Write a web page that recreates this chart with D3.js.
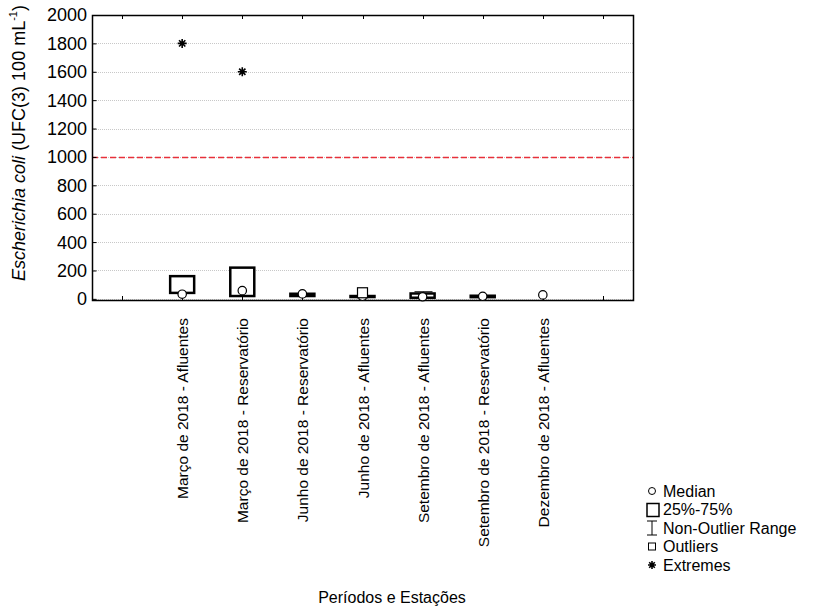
<!DOCTYPE html>
<html>
<head>
<meta charset="utf-8">
<script src="https://cdn.jsdelivr.net/npm/d3@7"></script>
<style>
  body { margin: 0; background: #fff; }
  text { font-family: "Liberation Sans", Arial, sans-serif; fill: #000; }
</style>
</head>
<body>
<div id="chart"></div>
<script>
// categories and box plot statistics
let categories = [
  "Março de 2018 - Afluentes",
  "Março de 2018 - Reservatório",
  "Junho de 2018 - Reservatório",
  "Junho de 2018 - Afluentes",
  "Setembro de 2018 - Afluentes",
  "Setembro de 2018 - Reservatório",
  "Dezembro de 2018 - Afluentes"
];
let medians = [33, 58, 35, 18, 15, 18, 28];
let q1 = [42, 20, 20, 14, 8, 12, null];
let q3 = [160, 220, 36, 20, 38, 22, null];
let whiskerLow = [null, null, null, null, 8, null, null];
let whiskerHigh = [null, null, null, null, 50, null, null];
let outliers = [[], [], [], [43], [], [], []];
let extremes = [[1800], [1600], [], [], [], [], []];
let yTicks = [0, 200, 400, 600, 800, 1000, 1200, 1400, 1600, 1800, 2000];
let limit = 1000;
let legendItems = ["Median", "25%-75%", "Non-Outlier Range", "Outliers", "Extremes"];

let w = 817;
let h = 610;
let pLeft = 92, pRight = 633, pTop = 15, pBottom = 300;
let fs = 16;

let svg = d3
  .select("#chart")
  .append("svg")
  .attr("width", w)
  .attr("height", h);

// one empty slot on each side, as in the original
let slots = ["_a"].concat(categories).concat(["_b"]);
let x = d3.scaleBand().domain(slots).range([pLeft, pRight]);
let y = d3.scaleLinear().domain([-8, 2000]).range([pBottom, pTop]);
let cx = function (c) { return x(c) + x.bandwidth() / 2; };

// grid lines
svg
  .selectAll("line.grid")
  .data(yTicks)
  .enter()
  .append("line")
  .attr("class", "grid")
  .attr("x1", pLeft)
  .attr("x2", pRight)
  .attr("y1", function (d) { return Math.round(y(d)) + 0.5; })
  .attr("y2", function (d) { return Math.round(y(d)) + 0.5; })
  .attr("stroke", "#c8c8c8")
  .attr("stroke-dasharray", "1,1");

// reference line
svg
  .append("line")
  .attr("x1", pLeft)
  .attr("x2", pRight)
  .attr("y1", Math.round(y(limit)) + 0.5)
  .attr("y2", Math.round(y(limit)) + 0.5)
  .attr("stroke", "#e8303a")
  .attr("stroke-width", 1.5)
  .attr("stroke-dasharray", "6,3");

// frame
svg
  .append("rect")
  .attr("x", pLeft + 0.5)
  .attr("y", pTop + 0.5)
  .attr("width", pRight - pLeft)
  .attr("height", pBottom - pTop)
  .attr("fill", "none")
  .attr("stroke", "#000")
  .attr("stroke-width", 1.5);

// y axis, ticks pointing inside
let yAxis = svg
  .append("g")
  .attr("transform", `translate(${pLeft + 0.5},0)`)
  .call(d3.axisRight(y).tickValues(yTicks).tickSize(4).tickFormat(""));
yAxis.select(".domain").remove();

svg
  .selectAll("text.ytick")
  .data(yTicks)
  .enter()
  .append("text")
  .attr("class", "ytick")
  .attr("x", pLeft - 5)
  .attr("y", function (d) { return y(d); })
  .attr("dy", "0.36em")
  .attr("text-anchor", "end")
  .attr("font-size", 18)
  .text(function (d) { return d; });

// x ticks on top and bottom, pointing inside
let tickSlots = slots.map(function (s) { return cx(s); });
svg
  .selectAll("line.xtickb")
  .data(tickSlots)
  .enter()
  .append("line")
  .attr("x1", function (d) { return Math.round(d) + 0.5; })
  .attr("x2", function (d) { return Math.round(d) + 0.5; })
  .attr("y1", pBottom)
  .attr("y2", pBottom - 4)
  .attr("stroke", "#000");
svg
  .selectAll("line.xtickt")
  .data(tickSlots)
  .enter()
  .append("line")
  .attr("x1", function (d) { return Math.round(d) + 0.5; })
  .attr("x2", function (d) { return Math.round(d) + 0.5; })
  .attr("y1", pTop)
  .attr("y2", pTop + 4)
  .attr("stroke", "#000");

// category labels
svg
  .selectAll("text.xlab")
  .data(categories)
  .enter()
  .append("text")
  .attr("class", "xlab")
  .attr("transform", function (d) { return `translate(${cx(d) + 6},318) rotate(-90)`; })
  .attr("text-anchor", "end")
  .attr("font-size", 15.5)
  .text(function (d) { return d; });

// boxes
let boxW = 24;
let idx = d3.range(categories.length);
let g = svg.append("g");

// whiskers
idx.forEach(function (i) {
  if (whiskerHigh[i] === null) return;
  let c = Math.round(cx(categories[i])) + 0.5;
  g.append("line")
    .attr("x1", c).attr("x2", c)
    .attr("y1", y(whiskerLow[i])).attr("y2", y(whiskerHigh[i]))
    .attr("stroke", "#000");
  [whiskerLow[i], whiskerHigh[i]].forEach(function (v) {
    g.append("line")
      .attr("x1", c - 9).attr("x2", c + 9)
      .attr("y1", y(v)).attr("y2", y(v))
      .attr("stroke", "#000");
  });
});

idx.forEach(function (i) {
  if (q1[i] === null) return;
  let c = cx(categories[i]);
  g.append("rect")
    .attr("x", c - boxW / 2)
    .attr("y", y(q3[i]))
    .attr("width", boxW)
    .attr("height", Math.max(1, y(q1[i]) - y(q3[i])))
    .attr("fill", "#fff")
    .attr("stroke", "#000")
    .attr("stroke-width", 2.5);
});

// medians
g.selectAll("circle.median")
  .data(idx)
  .enter()
  .append("circle")
  .attr("cx", function (i) { return cx(categories[i]); })
  .attr("cy", function (i) { return y(medians[i]); })
  .attr("r", 4.2)
  .attr("fill", "#fff")
  .attr("stroke", "#000")
  .attr("stroke-width", 1.2);

// outliers
idx.forEach(function (i) {
  outliers[i].forEach(function (v) {
    g.append("rect")
      .attr("x", cx(categories[i]) - 5)
      .attr("y", y(v) - 5)
      .attr("width", 10)
      .attr("height", 10)
      .attr("fill", "#fff")
      .attr("stroke", "#000")
      .attr("stroke-width", 1.2);
  });
});

function asterisk(sel, px, py, s) {
  sel.append("path")
    .attr("d", `M${px - s},${py}H${px + s}M${px},${py - s}V${py + s}` +
      `M${px - s * 0.7},${py - s * 0.7}L${px + s * 0.7},${py + s * 0.7}` +
      `M${px - s * 0.7},${py + s * 0.7}L${px + s * 0.7},${py - s * 0.7}`)
    .attr("stroke", "#000")
    .attr("stroke-width", 1.6);
}

// extremes
idx.forEach(function (i) {
  extremes[i].forEach(function (v) {
    asterisk(g, cx(categories[i]), y(v), 4.5);
  });
});

// axis titles
let yTitle = svg
  .append("text")
  .attr("transform", "translate(25,143) rotate(-90)")
  .attr("text-anchor", "middle")
  .attr("font-size", 18);
yTitle.append("tspan").attr("font-style", "italic").text("Escherichia coli");
yTitle.append("tspan").text(" (UFC(3) 100 mL");
yTitle.append("tspan").attr("font-size", 11).attr("dy", -8).text("-1");
yTitle.append("tspan").attr("dy", 8).text(")");

svg
  .append("text")
  .attr("x", 392)
  .attr("y", 603)
  .attr("text-anchor", "middle")
  .attr("font-size", fs)
  .text("Períodos e Estações");

// legend
let lx = 652, ly = 491, step = 18.5;
let legend = svg.append("g");
legend
  .selectAll("text")
  .data(legendItems)
  .enter()
  .append("text")
  .attr("x", lx + 11)
  .attr("y", function (d, i) { return ly + i * step; })
  .attr("dy", "0.35em")
  .attr("font-size", fs)
  .text(function (d) { return d; });

legend.append("circle")
  .attr("cx", lx).attr("cy", ly).attr("r", 3.5)
  .attr("fill", "#fff").attr("stroke", "#000");
legend.append("rect")
  .attr("x", lx - 5).attr("y", ly + step - 6)
  .attr("width", 12).attr("height", 13)
  .attr("fill", "#fff").attr("stroke", "#000").attr("stroke-width", 1.5);
let wy = ly + step * 2;
legend.append("path")
  .attr("d", `M${lx - 5},${wy - 7}H${lx + 5}M${lx},${wy - 7}V${wy + 7}M${lx - 5},${wy + 7}H${lx + 5}`)
  .attr("stroke", "#000");
legend.append("rect")
  .attr("x", lx - 3.5).attr("y", ly + step * 3 - 3.5)
  .attr("width", 7).attr("height", 7)
  .attr("fill", "#fff").attr("stroke", "#000");
asterisk(legend, lx, ly + step * 4, 4);
</script>
</body>
</html>
